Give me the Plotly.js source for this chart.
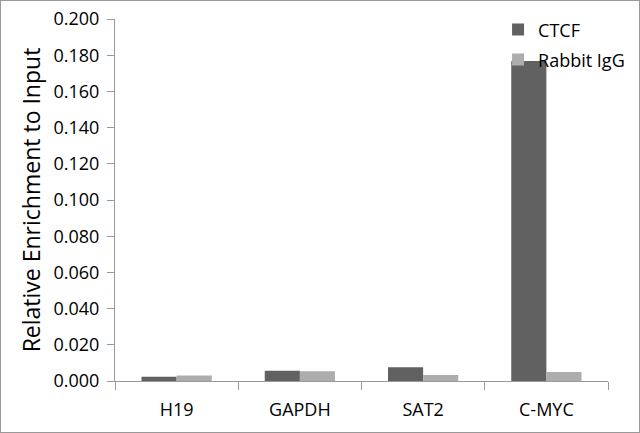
<!DOCTYPE html>
<html>
<head>
<meta charset="utf-8">
<script src="https://cdn.plot.ly/plotly-3.0.1.min.js"></script>
<style>
  body { margin: 0; background: #fff; }
  #frame { width: 638px; height: 431px; border: 1px solid #999; }
</style>
</head>
<body>
<div id="frame"><div id="chart"></div></div>
<script>
// values
var genes = ['H19', 'GAPDH', 'SAT2', 'C-MYC'];
var ctcf = [0.0024, 0.0057, 0.0076, 0.1768];
var rabbitIgG = [0.0031, 0.0054, 0.0033, 0.0050];
var yTicks = [0, 0.02, 0.04, 0.06, 0.08, 0.1, 0.12, 0.14, 0.16, 0.18, 0.2];

var font = 'Open Sans, Liberation Sans, sans-serif';

var traces = [
  { type: 'bar', name: 'CTCF', x: genes, y: ctcf,
    marker: { color: '#616161' }, legend: 'legend' },
  { type: 'bar', name: 'Rabbit IgG', x: genes, y: rabbitIgG,
    marker: { color: '#adadad' }, legend: 'legend2' }
];

var legendStyle = {
  xanchor: 'left', yanchor: 'middle',
  bgcolor: 'rgba(0,0,0,0)',
  font: { family: font, size: 18, color: '#000' }
};

var layout = {
  width: 638, height: 431,
  margin: { l: 114, r: 31, t: 18, b: 51, autoexpand: false },
  paper_bgcolor: '#fff', plot_bgcolor: '#fff',
  barmode: 'group', bargap: 0.43, bargroupgap: 0,
  font: { family: font, color: '#000' },
  showlegend: true,
  legend: Object.assign({ x: 0.777, y: 0.970 }, legendStyle),
  legend2: Object.assign({ x: 0.777, y: 0.887 }, legendStyle),
  xaxis: {
    showline: true, linecolor: '#999', linewidth: 1,
    ticks: 'outside', tickson: 'boundaries', ticklen: 8, tickcolor: '#999',
    tickfont: { family: font, size: 18, color: '#000' },
    ticklabelstandoff: 12,
    showgrid: false, zeroline: false
  },
  yaxis: {
    range: [0, 0.2],
    tickvals: yTicks,
    ticktext: yTicks.map(function (v) { return v.toFixed(3); }),
    showline: true, linecolor: '#999', linewidth: 1,
    ticks: 'outside', ticklen: 7, tickcolor: '#999',
    tickfont: { family: font, size: 18, color: '#000' },
    ticklabelstandoff: 4,
    showgrid: false, zeroline: false,
    title: { text: 'Relative Enrichment to Input',
             font: { family: font, size: 23, color: '#000' }, standoff: 6 }
  }
};

Plotly.newPlot('chart', traces, layout, { displayModeBar: false, staticPlot: true });
</script>
</body>
</html>
